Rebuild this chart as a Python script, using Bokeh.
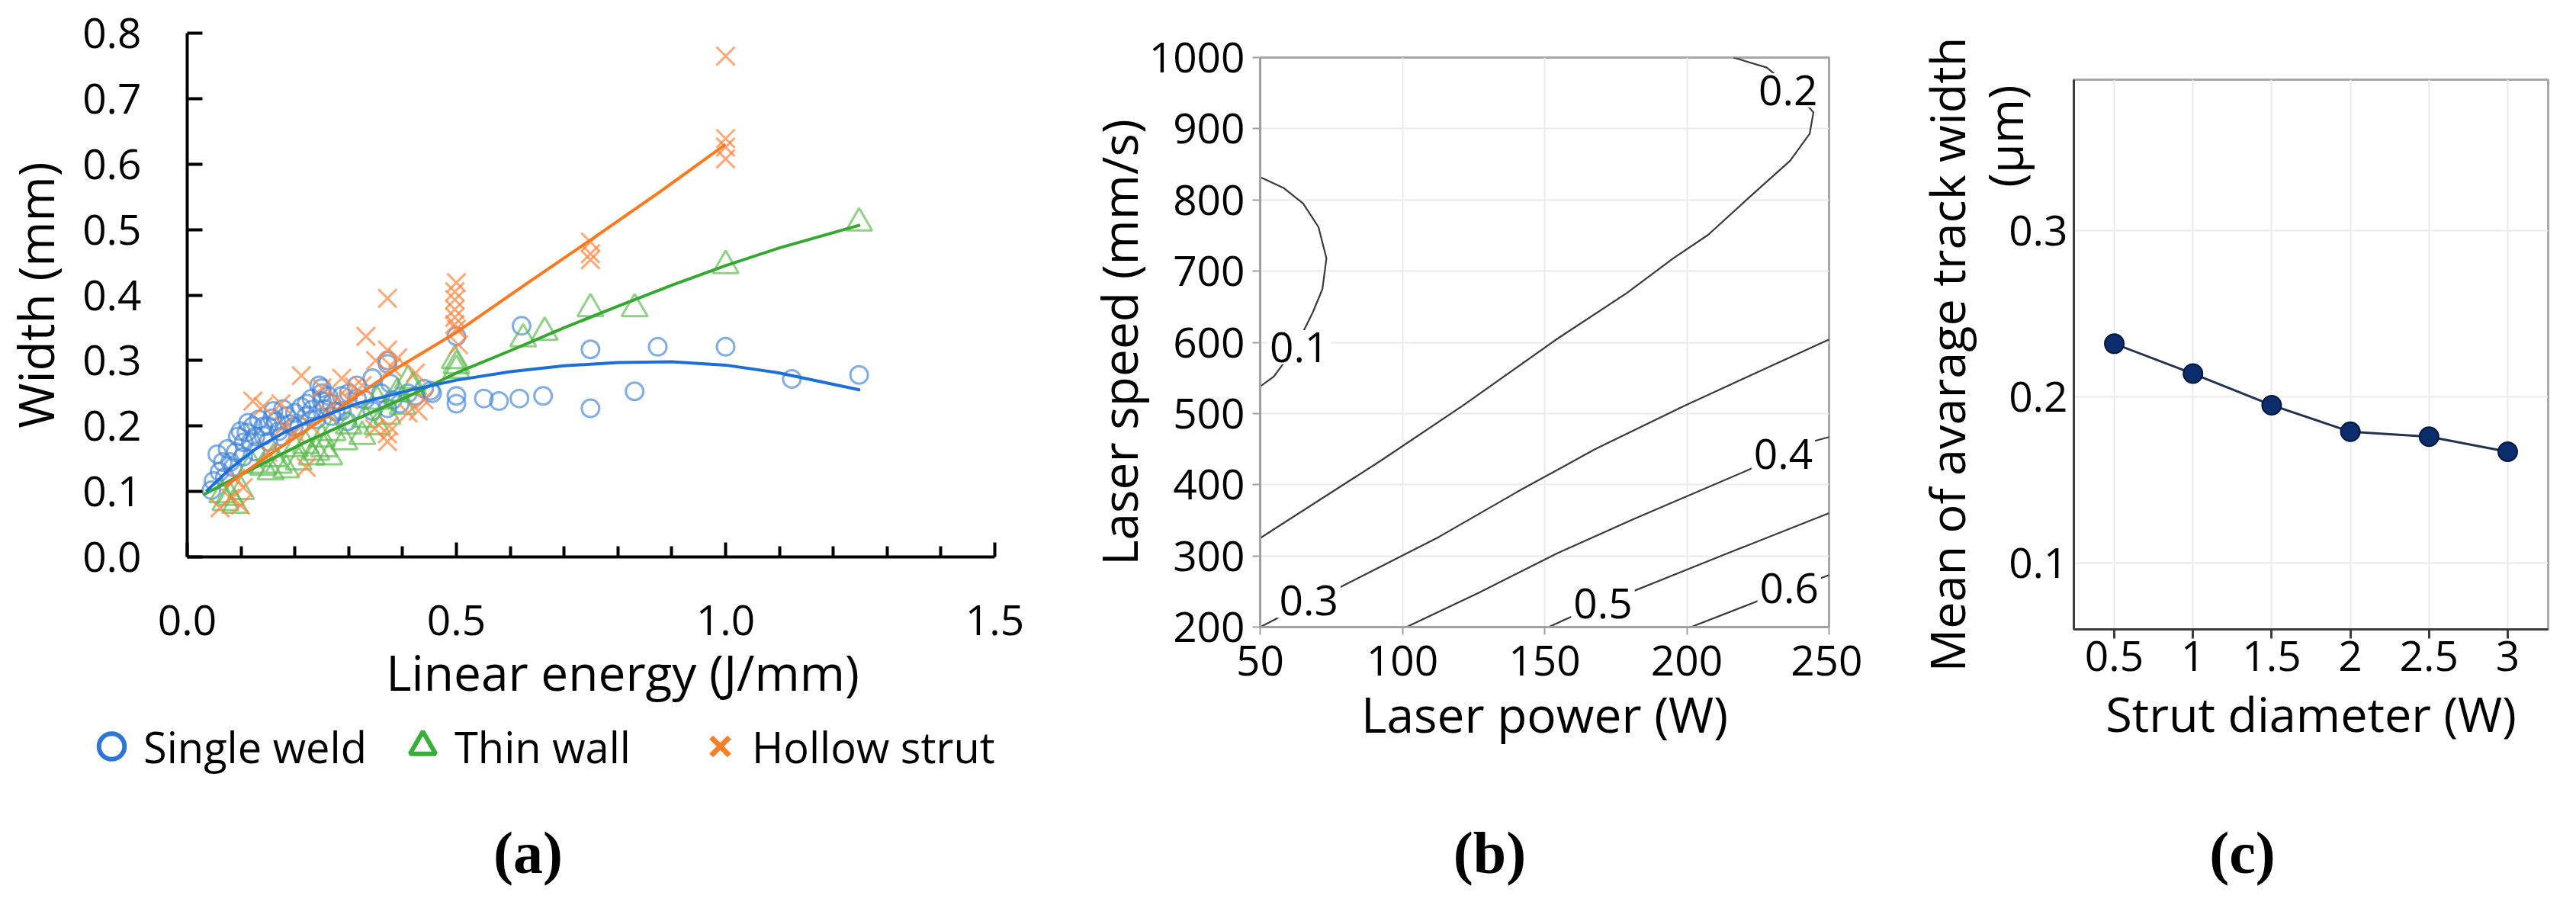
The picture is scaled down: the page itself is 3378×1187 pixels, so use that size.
from bokeh.plotting import figure
from bokeh.layouts import row, column
from bokeh.models import Range1d, FixedTicker, Legend, LegendItem
from bokeh.embed import file_html
from bokeh.resources import INLINE
from bokeh.core.properties import value

FONT = "Open Sans"
SERIF = "Liberation Serif"
NAN = float("nan")
NBSP = "\u00a0"

# ================= Panel (a): width vs linear energy =================
sw_x = [0.045, 0.049, 0.056, 0.066, 0.075, 0.094, 0.099, 0.085, 0.113, 0.118, 0.127, 0.141, 0.160, 0.165,
        0.184, 0.212, 0.221, 0.245, 0.250, 0.250, 0.268, 0.287, 0.297, 0.315, 0.344, 0.372, 0.377, 0.372,
        0.395, 0.424, 0.452, 0.500, 0.500, 0.500, 0.551, 0.579, 0.617, 0.661, 0.621, 0.749, 0.749, 0.831,
        0.874, 1.000, 1.123, 1.248, 0.198, 0.174, 0.151, 0.127, 0.104, 0.080, 0.231, 0.268, 0.315, 0.344,
        0.287, 0.060, 0.070, 0.090, 0.105, 0.110, 0.122, 0.133, 0.142, 0.150, 0.158, 0.170, 0.178, 0.190,
        0.200, 0.208, 0.222, 0.232, 0.240, 0.255, 0.262, 0.276, 0.300, 0.330, 0.360, 0.382, 0.410, 0.440,
        0.455, 0.372, 0.250]
sw_y = [0.102, 0.116, 0.157, 0.145, 0.165, 0.184, 0.192, 0.137, 0.205, 0.176, 0.184, 0.199, 0.223, 0.207,
        0.215, 0.229, 0.215, 0.262, 0.250, 0.238, 0.234, 0.246, 0.207, 0.262, 0.273, 0.295, 0.265, 0.227,
        0.234, 0.246, 0.254, 0.246, 0.234, 0.337, 0.242, 0.238, 0.242, 0.246, 0.353, 0.317, 0.227, 0.253,
        0.321, 0.321, 0.272, 0.278, 0.199, 0.184, 0.176, 0.161, 0.153, 0.145, 0.242, 0.215, 0.242, 0.223,
        0.223, 0.130, 0.122, 0.160, 0.175, 0.190, 0.200, 0.210, 0.185, 0.200, 0.212, 0.192, 0.226, 0.203,
        0.220, 0.200, 0.234, 0.225, 0.210, 0.226, 0.246, 0.222, 0.250, 0.240, 0.250, 0.240, 0.250, 0.257,
        0.250, 0.300, 0.258]

tw_x = [0.071, 0.089, 0.080, 0.141, 0.155, 0.184, 0.207, 0.231, 0.254, 0.264, 0.292, 0.325, 0.353, 0.372,
        0.400, 0.410, 0.497, 0.500, 0.624, 0.664, 0.749, 0.831, 1.000, 1.248, 0.065, 0.100, 0.120, 0.160,
        0.200, 0.220, 0.250, 0.270, 0.300, 0.330, 0.353, 0.390, 0.420, 0.500, 0.170, 0.240]
tw_y = [0.083, 0.079, 0.091, 0.137, 0.130, 0.133, 0.145, 0.153, 0.165, 0.153, 0.176, 0.184, 0.199, 0.215,
        0.230, 0.269, 0.300, 0.285, 0.333, 0.343, 0.379, 0.379, 0.445, 0.510, 0.095, 0.100, 0.140, 0.150,
        0.165, 0.170, 0.180, 0.190, 0.200, 0.210, 0.238, 0.250, 0.260, 0.292, 0.140, 0.160]

hs_x = [0.061, 0.099, 0.104, 0.212, 0.141, 0.174, 0.221, 0.287, 0.332, 0.372, 0.372, 0.372, 0.372, 0.348,
        0.325, 0.424, 0.429, 0.497, 0.497, 0.497, 0.497, 0.497, 0.504, 0.391, 0.278, 0.250, 0.122, 1.000,
        1.000, 1.000, 1.000, 0.749, 0.749, 0.749, 0.080, 0.090, 0.150, 0.180, 0.200, 0.230, 0.260, 0.300,
        0.310, 0.350, 0.380, 0.410, 0.440, 0.375, 0.500, 0.500]
hs_y = [0.075, 0.079, 0.106, 0.277, 0.230, 0.234, 0.137, 0.273, 0.337, 0.395, 0.316, 0.188, 0.176, 0.196,
        0.262, 0.281, 0.223, 0.405, 0.393, 0.378, 0.366, 0.355, 0.324, 0.304, 0.242, 0.258, 0.238, 0.765,
        0.639, 0.608, 0.626, 0.481, 0.454, 0.463, 0.090, 0.120, 0.160, 0.200, 0.190, 0.200, 0.220, 0.240,
        0.260, 0.300, 0.290, 0.220, 0.240, 0.200, 0.419, 0.348]

sw_fit_x = [0.035, 0.08, 0.127, 0.18, 0.22, 0.315, 0.41, 0.5, 0.6, 0.7, 0.8, 0.9, 1.0, 1.1, 1.25]
sw_fit_y = [0.100, 0.135, 0.165, 0.190, 0.205, 0.234, 0.254, 0.270, 0.283, 0.292, 0.297, 0.298, 0.293, 0.281, 0.255]
tw_fit_x = [0.03, 0.127, 0.221, 0.315, 0.41, 0.5, 0.6, 0.7, 0.8, 0.9, 1.0, 1.1, 1.25]
tw_fit_y = [0.095, 0.137, 0.176, 0.211, 0.245, 0.281, 0.315, 0.350, 0.383, 0.415, 0.445, 0.472, 0.507]
hs_fit_x = [0.07, 0.174, 0.268, 0.391, 0.5, 0.626, 0.749, 0.875, 1.0]
hs_fit_y = [0.108, 0.168, 0.219, 0.289, 0.343, 0.415, 0.484, 0.556, 0.630]

a_xticks = [0.0, 0.5, 1.0, 1.5]
a_xtick_labels = ["0.0", "0.5", "1.0", "1.5"]
a_xminor = [0.1, 0.2, 0.3, 0.4, 0.6, 0.7, 0.8, 0.9, 1.1, 1.2, 1.3, 1.4]
a_yticks = [0.0, 0.1, 0.2, 0.3, 0.4, 0.5, 0.6, 0.7, 0.8]
a_ytick_labels = ["0.0", "0.1", "0.2", "0.3", "0.4", "0.5", "0.6", "0.7", "0.8"]
legend_labels = ["Single weld", "Thin wall", "Hollow strut"]

# ================= Panel (b): contour map =================
c01_power = [50, 58.2, 65.1, 70.5, 73.3, 71.9, 68.5, 64.5, 60.0, 54.8, 50]
c01_speed = [832, 817, 795, 762, 718, 675, 642, 610, 580, 552, 538]
c02_power = [216.4, 228.1, 237.5, 244.5, 243.2, 236.3, 222.6, 207.5, 195.2, 178.8, 154.1, 121.2, 92.5, 50]
c02_speed = [1000, 986, 955, 923, 893, 855, 806, 751, 718, 669, 604, 511, 434, 325]
c03_power = [50, 54.8, 67.1, 78.1, 113, 140.4, 167.8, 199.3, 222.6, 250]
c03_speed = [200, 210, 237, 256, 327, 390, 450, 511, 554, 604]
c04_power = [101.4, 126.7, 154.1, 181.5, 221.2, 233.9, 244.5, 250]
c04_speed = [200, 248, 303, 352, 420, 443, 461, 467]
c05_power = [151.4, 156.8, 170.5, 181.5, 215.8, 250]
c05_speed = [200, 210, 234, 251, 306, 360]
c06_power = [201.4, 223.3, 236.0, 245.9, 250]
c06_speed = [200, 234, 255, 267, 273]
contour_levels = ["0.1", "0.2", "0.3", "0.4", "0.5", "0.6"]
clabel_power = [63.7, 235.6, 67.1, 233.9, 170.5, 236.0]
clabel_speed = [593, 954, 237, 443, 233, 254.5]
b_xticks = [50, 100, 150, 200, 250]
b_xtick_labels = ["50", "100", "150", "200", "250"]
b_yticks = [200, 300, 400, 500, 600, 700, 800, 900, 1000]
b_ytick_labels = ["200", "300", "400", "500", "600", "700", "800", "900", "1000"]

# ================= Panel (c): mean track width vs strut diameter =================
strut_d = [0.5, 1.0, 1.5, 2.0, 2.5, 3.0]
track_w = [0.232, 0.214, 0.195, 0.179, 0.176, 0.167]
c_xtick_labels = ["0.5", "1", "1.5", "2", "2.5", "3"]
c_yticks = [0.1, 0.2, 0.3]
c_ytick_labels = ["0.1", "0.2", "0.3"]


def base_fig(**kw):
    return figure(output_backend="svg", toolbar_location=None,
                  background_fill_color="white", border_fill_color="white", **kw)


def style_axis(ax, label_size="55px"):
    ax.major_label_text_font = FONT
    ax.major_label_text_font_size = label_size
    ax.major_label_text_color = "black"
    ax.axis_label_text_font = FONT
    ax.axis_label_text_font_style = "normal"
    ax.axis_label_text_color = "black"


# ---------- panel (a) ----------
pa = base_fig(width=1412, height=937, x_range=Range1d(0, 1.5), y_range=Range1d(0, 0.8),
              min_border_left=242, min_border_right=108, min_border_top=43, min_border_bottom=207)
pa.outline_line_color = None
pa.xgrid.visible = False
pa.ygrid.visible = False
xa = pa.xaxis[0]
ya = pa.yaxis[0]
for ax in (xa, ya):
    style_axis(ax)
    ax.axis_line_color = "black"
    ax.axis_line_width = 4
    ax.major_tick_line_color = "black"
    ax.major_tick_line_width = 4
    ax.major_tick_out = 0
    ax.axis_label_text_font_size = "64px"
xa.ticker = FixedTicker(ticks=a_xticks, minor_ticks=a_xminor)
xa.major_label_overrides = dict(zip(a_xticks, a_xtick_labels))
xa.major_tick_in = 19
xa.minor_tick_in = 14
xa.minor_tick_out = 0
xa.minor_tick_line_color = "black"
xa.minor_tick_line_width = 4
xa.major_label_standoff = 63
# the title sits a little right of the frame centre in the original
xa.axis_label = NBSP * 5 + "Linear energy (J/mm)"
xa.axis_label_standoff = 2
ya.ticker = FixedTicker(ticks=a_yticks)
ya.major_label_overrides = dict(zip(a_yticks, a_ytick_labels))
ya.major_tick_in = 20
ya.minor_tick_line_color = None
ya.major_label_standoff = 60
ya.axis_label = "Width (mm)"
ya.axis_label_standoff = 15

pa.scatter(sw_x, sw_y, marker="circle", size=23, fill_color=None,
           line_color="#3f82d6", line_alpha=0.65, line_width=3)
pa.scatter(tw_x, tw_y, marker="triangle", size=34, fill_color=None,
           line_color="#56b847", line_alpha=0.65, line_width=3)
pa.scatter(hs_x, hs_y, marker="x", size=34, line_color="#ff8540", line_alpha=0.7, line_width=3)
pa.line(tw_fit_x, tw_fit_y, line_color="#36a832", line_width=4)
pa.line(hs_fit_x, hs_fit_y, line_color="#ff7a1f", line_width=4)
pa.line(sw_fit_x, sw_fit_y, line_color="#1c6ed8", line_width=4)

# ---------- panel (a) lower strip: legend and tag ----------
pa2 = base_fig(width=1412, height=234, x_range=Range1d(8, 1420), y_range=Range1d(1179, 945),
               x_axis_location=None, y_axis_location=None, min_border=0)
pa2.outline_line_color = None
pa2.xgrid.visible = False
pa2.ygrid.visible = False
pa2.text(x=[700], y=[1126], text=["(a)"], text_font=value(SERIF), text_font_style="bold",
         text_font_size="78px", text_align="center", text_baseline="middle", text_color="black")

# legend swatches (renderers with no visible point; used only by the legend)
r_sw = pa2.scatter(x=[NAN], y=[NAN], marker="circle", fill_color=None, line_color="#2e75d6", line_width=6)
r_tw = pa2.scatter(x=[NAN], y=[NAN], marker="triangle", fill_color=None, line_color="#3aad3a", line_width=6)
r_hs = pa2.scatter(x=[NAN], y=[NAN], marker="x", line_color="#ff7f27", line_width=7)
leg = Legend(items=[LegendItem(label=lab, renderers=[r]) for lab, r in zip(legend_labels, [r_sw, r_tw, r_hs])],
             location=(104, 145), orientation="horizontal", glyph_width=84, glyph_height=95,
             label_standoff=0, label_width=275, padding=0, margin=0, spacing=31,
             border_line_color=None, background_fill_alpha=0,
             label_text_font=FONT, label_text_font_size="56px", label_text_color="black")
pa2.add_layout(leg)

# ---------- panel (b) ----------
pb = base_fig(width=1030, height=1004, x_range=Range1d(50, 250), y_range=Range1d(200, 1000),
              min_border_left=240, min_border_right=44, min_border_top=75, min_border_bottom=182)
pb.outline_line_color = "#a6a6a6"
pb.outline_line_width = 3
pb.xgrid.grid_line_color = "#ebebeb"
pb.ygrid.grid_line_color = "#ebebeb"
pb.xgrid.grid_line_width = 2
pb.ygrid.grid_line_width = 2
xb = pb.xaxis[0]
yb = pb.yaxis[0]
for ax in (xb, yb):
    style_axis(ax)
    ax.axis_line_color = "#a0a0a0"
    ax.axis_line_width = 3
    ax.major_tick_line_color = "#a0a0a0"
    ax.major_tick_line_width = 2
    ax.major_tick_in = 0
    ax.major_tick_out = 10
    ax.minor_tick_line_color = None
    ax.axis_label_text_font_size = "64px"
xb.ticker = FixedTicker(ticks=b_xticks)
xb.major_label_overrides = dict(zip(b_xticks, b_xtick_labels))
xb.major_label_standoff = 14
xb.axis_label = "Laser power (W)"
xb.axis_label_standoff = 4
yb.ticker = FixedTicker(ticks=b_yticks)
yb.major_label_overrides = dict(zip(b_yticks, b_ytick_labels))
yb.major_label_standoff = 10
yb.axis_label = "Laser speed (mm/s)"
yb.axis_label_standoff = -7

pb.multi_line(xs=[c01_power, c02_power, c03_power, c04_power, c05_power, c06_power],
              ys=[c01_speed, c02_speed, c03_speed, c04_speed, c05_speed, c06_speed],
              line_color="#3a3a3a", line_width=2.2)
pb.text(x=clabel_power, y=clabel_speed, text=contour_levels, text_font=value(FONT),
        text_font_size="55px", text_align="center", text_baseline="middle", text_color="black",
        background_fill_color="white", padding=3)

# ---------- panel (c) ----------
pc = base_fig(width=920, height=1004, x_range=Range1d(0.243, 3.257), y_range=Range1d(0.06, 0.391),
              min_border_left=277, min_border_right=21, min_border_top=104, min_border_bottom=179)
pc.outline_line_color = "#a8a8a8"
pc.outline_line_width = 3
pc.xgrid.grid_line_color = "#ebebeb"
pc.ygrid.grid_line_color = "#ebebeb"
pc.xgrid.grid_line_width = 2
pc.ygrid.grid_line_width = 2
xc = pc.xaxis[0]
yc = pc.yaxis[0]
for ax in (xc, yc):
    style_axis(ax)
    ax.axis_line_color = "#3c3c3c"
    ax.axis_line_width = 3
    ax.minor_tick_line_color = None
    ax.major_tick_in = 0
xc.ticker = FixedTicker(ticks=strut_d)
xc.major_label_overrides = dict(zip(strut_d, c_xtick_labels))
xc.major_tick_out = 12
xc.major_tick_line_color = "#3c3c3c"
xc.major_tick_line_width = 3
xc.major_label_standoff = 3
xc.axis_label = "Strut diameter (W)"
xc.axis_label_text_font_size = "63px"
xc.axis_label_standoff = 10
yc.ticker = FixedTicker(ticks=c_yticks)
yc.major_label_overrides = dict(zip(c_yticks, c_ytick_labels))
yc.major_tick_out = 0
yc.major_tick_line_color = None
yc.major_label_standoff = 8
# two-line title; the unit line is padded with no-break spaces so it sits at the top end
yc.axis_label = "Mean of avarage track width\n" + NBSP * 35 + "(\u00b5m)"
yc.axis_label_text_font_size = "63px"
yc.axis_label_text_line_height = 0.9
yc.axis_label_standoff = -40

pc.line(strut_d, track_w, line_color="#22324f", line_width=3)
pc.scatter(strut_d, track_w, marker="circle", size=25, fill_color="#0b2d6b",
           line_color="#06183a", line_width=2)

# ---------- lower strip for (b) and (c) ----------
pbc2 = base_fig(width=1950, height=167, x_range=Range1d(1420, 3370), y_range=Range1d(1179, 1012),
                x_axis_location=None, y_axis_location=None, min_border=0)
pbc2.outline_line_color = None
pbc2.xgrid.visible = False
pbc2.ygrid.visible = False
pbc2.text(x=[1961, 2948], y=[1126, 1126], text=["(b)", "(c)"], text_font=value(SERIF),
          text_font_style="bold", text_font_size="78px", text_align="center",
          text_baseline="middle", text_color="black")

layout = row(
    column(row(pa), row(pa2)),
    column(row(column(pb), column(pc)), row(pbc2)),
)

open("out.html", "w").write(file_html(layout, INLINE))
